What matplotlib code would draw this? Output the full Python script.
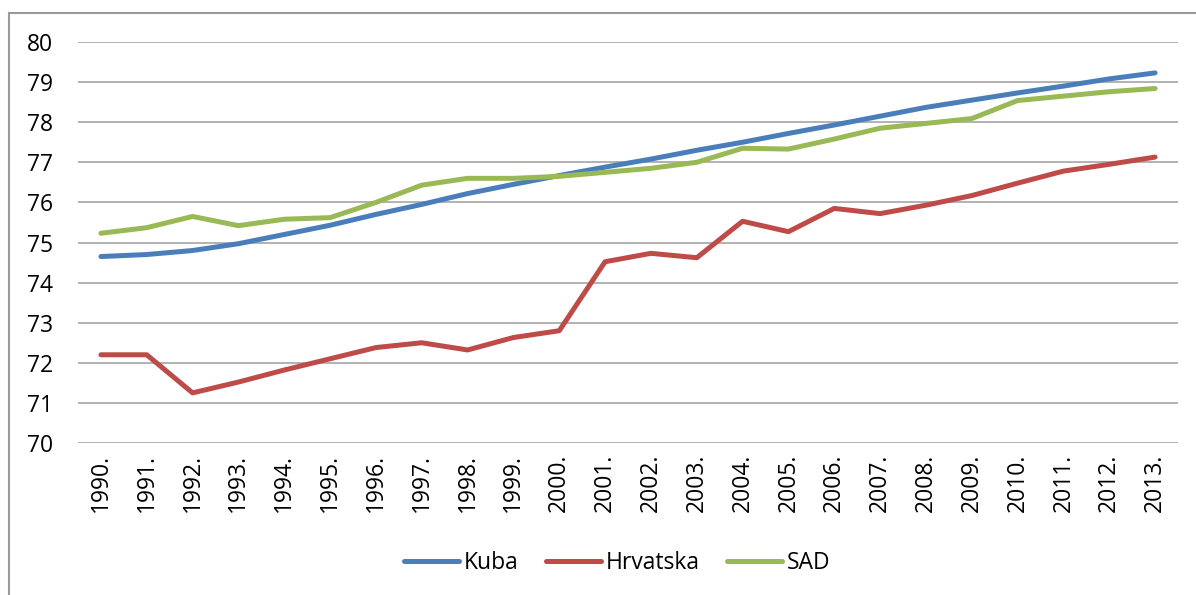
import matplotlib

matplotlib.use("Agg")
import matplotlib.pyplot as plt
from matplotlib.patches import Rectangle

plt.rcParams["font.family"] = ["Open Sans", "DejaVu Sans"]

YEARS = [f"{y}." for y in range(1990, 2014)]

KUBA = [74.65, 74.70, 74.80, 74.97, 75.20, 75.43, 75.70, 75.95, 76.22, 76.45,
        76.67, 76.88, 77.08, 77.30, 77.50, 77.72, 77.93, 78.15, 78.37, 78.55,
        78.73, 78.90, 79.08, 79.23]
HRVATSKA = [72.20, 72.20, 71.25, 71.52, 71.82, 72.10, 72.38, 72.50, 72.32, 72.63,
            72.80, 74.52, 74.73, 74.62, 75.53, 75.27, 75.85, 75.72, 75.93, 76.17,
            76.48, 76.78, 76.95, 77.13]
SAD = [75.23, 75.37, 75.65, 75.42, 75.58, 75.62, 76.00, 76.43, 76.60, 76.60,
       76.65, 76.75, 76.85, 77.00, 77.35, 77.33, 77.58, 77.85, 77.97, 78.09,
       78.54, 78.65, 78.76, 78.84]

SERIES = [("Kuba", KUBA, "#4a7ebb"),
          ("Hrvatska", HRVATSKA, "#be4b48"),
          ("SAD", SAD, "#98b954")]

W, H = 1196, 595
fig = plt.figure(figsize=(W / 100, H / 100), dpi=100)
ax = fig.add_axes([78 / W, 1 - 443 / H, 1100 / W, 401 / H])

x = range(len(YEARS))
for name, vals, color in SERIES:
    ax.plot(x, vals, color=color, lw=3.6, label=name, solid_capstyle="round")

ax.set_xlim(-0.5, len(YEARS) - 0.5)
ax.set_ylim(70, 80)
ax.set_yticks(range(70, 81))
ax.set_xticks(list(x))
ax.set_xticklabels(YEARS, rotation=90, fontsize=16.5)
ax.tick_params(axis="y", labelsize=16.5, length=0, pad=18)
ax.tick_params(axis="x", length=0, pad=8)
ax.grid(axis="y", color="#a6a6a6", lw=1.2)
ax.set_axisbelow(True)
for s in ax.spines.values():
    s.set_visible(False)
for lbl in ax.get_yticklabels():
    lbl.set_horizontalalignment("right")

# outer chart frame (left and top edges visible)
fig.patches.append(Rectangle((9 / W, -0.1), 1.2, 1 - 13 / H + 0.1,
                             transform=fig.transFigure, fill=False,
                             edgecolor="#9a9a9a", lw=1.5))

fig.legend(loc="center", bbox_to_anchor=(617 / W, 1 - 563 / H), ncol=3,
           frameon=False, fontsize=16.5, handlelength=2.4, handletextpad=0.2,
           columnspacing=1.2)

fig.savefig("out.png", dpi=100)
